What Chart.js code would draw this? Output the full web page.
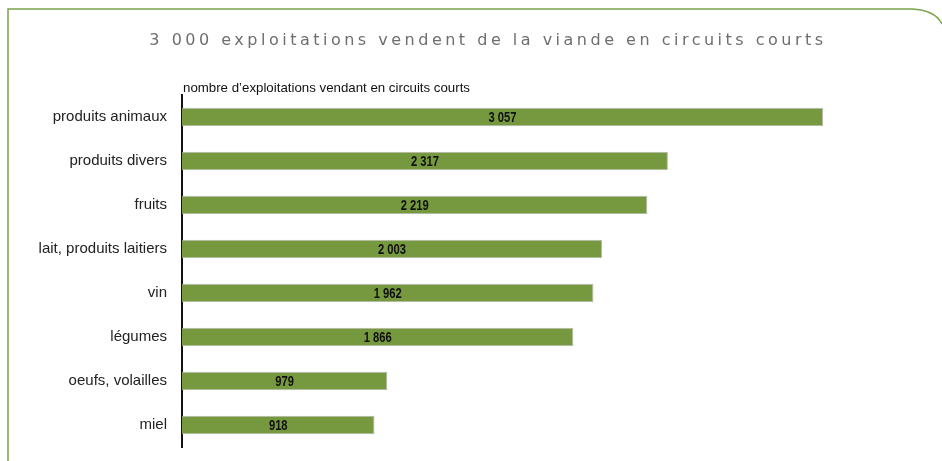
<!DOCTYPE html>
<html>
<head>
<meta charset="utf-8">
<script src="https://cdn.jsdelivr.net/npm/chart.js@4"></script>
<style>
  body { margin: 0; background: #fff; }
  .chart_box { position: relative; width: 942px; height: 461px; }
</style>
</head>
<body>
<div class="chart_box"><canvas id="graphique"></canvas></div>
<script>
const titre = "3 000 exploitations vendent de la viande en circuits courts";
const sousTitre = "nombre d\u2019exploitations vendant en circuits courts";
const categories = ["produits animaux", "produits divers", "fruits", "lait, produits laitiers", "vin", "légumes", "oeufs, volailles", "miel"];
const exploitations = [3057, 2317, 2219, 2003, 1962, 1866, 979, 918];

const vert = "#76993f";

// texte un peu étroit (style Arial Narrow) : on écrase horizontalement
function texteEtroit(ctx, txt, x, y, ratio) {
  ctx.save();
  ctx.translate(x, y);
  ctx.scale(ratio, 1);
  ctx.fillText(txt, 0, 0);
  ctx.restore();
}

// cadre vert + titre + étiquettes des barres
const decor = {
  id: "decor",
  beforeDraw(chart) {
    const ctx = chart.ctx;
    ctx.save();
    ctx.strokeStyle = "#7aa34a";
    ctx.lineWidth = 1.5;
    ctx.beginPath();
    ctx.moveTo(8, 461);
    ctx.lineTo(8, 9);
    ctx.lineTo(912, 9);
    ctx.quadraticCurveTo(935, 10, 942, 24);
    ctx.stroke();

    ctx.fillStyle = "#6e6e6e";
    ctx.font = "16px 'DejaVu Sans'";
    ctx.letterSpacing = "3.5px";
    ctx.textAlign = "center";
    ctx.textBaseline = "middle";
    ctx.fillText(titre, 488, 41);
    ctx.letterSpacing = "0px";

    ctx.fillStyle = "#111";
    ctx.font = "13px 'Liberation Sans'";
    ctx.textAlign = "left";
    ctx.textBaseline = "alphabetic";
    const w = ctx.measureText(sousTitre).width;
    texteEtroit(ctx, sousTitre, chart.chartArea.left + 1, 92, 287 / w);
    ctx.restore();
  },
  afterDatasetsDraw(chart) {
    const ctx = chart.ctx;
    const meta = chart.getDatasetMeta(0);
    ctx.save();
    ctx.fillStyle = "#111";
    ctx.font = "bold 14px 'Liberation Sans'";
    ctx.textAlign = "center";
    ctx.textBaseline = "middle";
    meta.data.forEach((bar, i) => {
      const txt = exploitations[i].toLocaleString("fr-FR").replace(/\s/g, " ");
      texteEtroit(ctx, txt, (bar.base + bar.x) / 2, bar.y + 1, 0.8);
    });
    ctx.restore();
  }
};

new Chart(document.getElementById("graphique"), {
  type: "bar",
  data: {
    labels: categories,
    datasets: [{
      data: exploitations,
      backgroundColor: vert,
      borderColor: "#b4b8ae",
      borderWidth: 1,
      borderSkipped: "start",
      barPercentage: 0.42,
      categoryPercentage: 1
    }]
  },
  options: {
    indexAxis: "y",
    responsive: true,
    maintainAspectRatio: false,
    animation: false,
    layout: { padding: { left: 0, top: 95, bottom: 14, right: 47 } },
    plugins: { legend: { display: false }, tooltip: { enabled: false } },
    scales: {
      x: { display: false, min: 0, max: 3400 },
      y: {
        afterFit(scale) { scale.width = 182; },
        grid: { display: true, drawOnChartArea: false, drawTicks: true, tickLength: 15, color: "rgba(0,0,0,0)" },
        border: { display: true, color: "#111", width: 2 },
        ticks: {
          padding: 0,
          color: "#222",
          font: { family: "'Liberation Sans'", size: 15 }
        }
      }
    }
  },
  plugins: [decor]
});
</script>
</body>
</html>
